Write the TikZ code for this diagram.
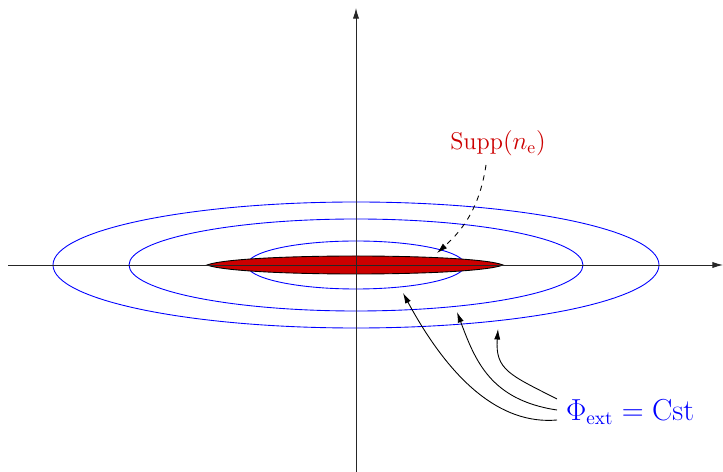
\documentclass[tikz,border=0pt]{standalone}
\usetikzlibrary{arrows.meta}
\begin{document}
\begin{tikzpicture}[x=0.02cm,y=-0.02cm,
  axis/.style={draw=black!85,line width=0.5pt,-{Latex[length=6pt,width=3.5pt]}},
  level/.style={draw=blue,line width=0.5pt},
  ptr/.style={draw=black,line width=0.5pt,-{Latex[length=6pt,width=3.5pt]}},
  lab/.style={inner sep=1pt}]
\useasboundingbox (0,0) rectangle (723,472);
\definecolor{suppred}{RGB}{204,0,0}
% level sets
\draw[level] (356,265) ellipse [x radius=303, y radius=63];
\draw[level] (356,265) ellipse [x radius=227, y radius=46];
\draw[level] (356,265) ellipse [x radius=109, y radius=24];
% support
\draw[fill=suppred,draw=black,line width=0.5pt] (207,265) .. controls (238,253) and (474,253) .. (503,265) .. controls (474,277) and (238,277) .. (207,265) -- cycle;
% axes
\coordinate (xs) at (8,265);
\coordinate (xe) at (723,265);
\coordinate (ys) at (356,472);
\coordinate (ye) at (356,8);
\draw[axis] (xs) -- (xe);
\draw[axis] (ys) -- (ye);
% labels
\node[lab,text=suppred] (supp) at (498,143) {\fontsize{13.8}{16}\selectfont Supp$(n_{\mathrm{e}})$};
\node[lab,text=blue,anchor=west] (phi) at (564,412) {\fontsize{16.3}{19}\selectfont $\Phi_{\mathrm{ext}}=\mathrm{Cst}$};
\coordinate (st) at (437,253);
\draw[ptr,dashed] (486,165) .. controls (480,205) and (465,228) .. (st);
\coordinate (s0) at (557,420);
\coordinate (s1) at (557,410);
\coordinate (s2) at (557,399);
\coordinate (t0) at (403,293);
\coordinate (t1) at (457,312);
\coordinate (t2) at (498,329);
\draw[ptr] (s0) .. controls (500,425) and (450,380) .. (t0);
\draw[ptr] (s1) .. controls (490,400) and (475,360) .. (t1);
\draw[ptr] (s2) .. controls (510,375) and (495,370) .. (t2);
\end{tikzpicture}
\end{document}
